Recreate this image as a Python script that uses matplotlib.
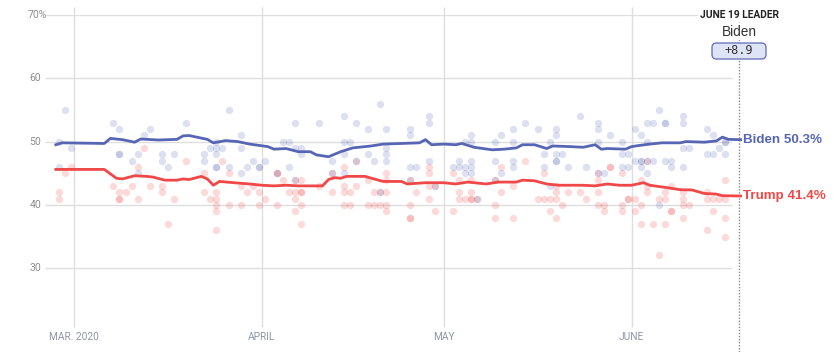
import matplotlib
matplotlib.use("Agg")
import matplotlib.pyplot as plt
import matplotlib.dates as mdates
import matplotlib.transforms as mtransforms
from matplotlib.patches import FancyBboxPatch
import pandas as pd

# ---------------- data ----------------
biden_line_dates = ["02-27", "02-28", "03-06", "03-07", "03-09", "03-11", "03-12", "03-15", "03-18", "03-19",
                    "03-20", "03-23", "03-24", "03-26", "03-28", "03-30", "04-02", "04-03", "04-05", "04-07",
                    "04-09", "04-10", "04-12", "04-14", "04-16", "04-19", "04-21", "04-24", "04-27", "04-28",
                    "04-29", "05-01", "05-03", "05-04", "05-06", "05-09", "05-11", "05-13", "05-14", "05-16",
                    "05-18", "05-19", "05-22", "05-24", "05-26", "05-27", "05-28", "05-31", "06-01", "06-02",
                    "06-04", "06-06", "06-09", "06-10", "06-13", "06-15", "06-16", "06-17", "06-19"]
biden_line_values = [49.5, 49.8, 49.7, 50.5, 50.3, 49.9, 50.4, 50.25, 50.35, 50.9,
                     50.95, 50.35, 49.8, 50.15, 50.0, 49.6, 49.2, 48.8, 48.9, 48.4,
                     48.4, 47.9, 47.6, 48.4, 49.0, 49.3, 49.6, 49.7, 49.8, 50.3,
                     49.5, 49.6, 49.5, 49.7, 49.1, 48.7, 48.8, 49.0, 49.5, 49.5,
                     48.9, 49.3, 49.2, 49.1, 49.5, 48.8, 48.9, 48.8, 49.2, 49.35,
                     49.6, 49.8, 49.8, 50.0, 49.9, 50.1, 50.7, 50.35, 50.3]

trump_line_dates = ["02-27", "03-06", "03-08", "03-09", "03-11", "03-13", "03-14", "03-16", "03-18", "03-19",
                    "03-20", "03-22", "03-23", "03-24", "03-25", "03-28", "03-30", "04-01", "04-03", "04-05",
                    "04-07", "04-11", "04-12", "04-13", "04-14", "04-15", "04-18", "04-21", "04-24", "04-25",
                    "04-28", "05-01", "05-03", "05-05", "05-08", "05-10", "05-13", "05-14", "05-16", "05-18",
                    "05-20", "05-24", "05-26", "05-28", "05-30", "06-01", "06-03", "06-04", "06-07", "06-09",
                    "06-11", "06-13", "06-15", "06-16", "06-19"]
trump_line_values = [45.6, 45.6, 44.2, 44.1, 44.6, 44.5, 44.4, 43.9, 43.9, 44.1,
                     44.0, 44.5, 44.1, 43.1, 43.7, 43.45, 43.3, 43.1, 43.0, 43.1,
                     43.0, 43.0, 44.0, 44.3, 44.2, 44.5, 44.5, 43.7, 43.7, 43.3,
                     43.5, 43.5, 43.3, 43.6, 43.3, 43.6, 43.6, 43.9, 43.8, 43.3,
                     43.1, 43.1, 43.0, 43.3, 43.1, 43.1, 43.5, 43.1, 42.7, 42.4,
                     42.35, 41.8, 41.7, 41.45, 41.4]

biden_poll_dates = ["02-27", "02-27", "02-28", "02-29",
    "03-07", "03-08", "03-08", "03-08", "03-10", "03-11", "03-11", "03-12", "03-13", "03-15", "03-15", "03-16", "03-17", "03-19",
    "03-22", "03-22", "03-23", "03-24", "03-24", "03-24", "03-24", "03-24", "03-25", "03-26", "03-26", "03-28", "03-28", "03-28",
    "03-29", "03-30", "03-31", "03-31",
    "04-01", "04-03", "04-04", "04-05", "04-05", "04-06", "04-06", "04-06", "04-07", "04-07", "04-10", "04-12", "04-12",
    "04-14", "04-14", "04-14", "04-14", "04-15", "04-16", "04-16", "04-18", "04-18", "04-19", "04-20", "04-20", "04-21", "04-21", "04-21", "04-21",
    "04-25", "04-25", "04-25", "04-25", "04-26", "04-28", "04-28", "04-28", "04-29",
    "05-02", "05-03", "05-03", "05-04", "05-04", "05-04", "05-05", "05-05", "05-05", "05-05", "05-05", "05-06",
    "05-09", "05-09", "05-09", "05-10", "05-10", "05-12", "05-12", "05-12", "05-12", "05-14", "05-16", "05-17", "05-17",
    "05-18", "05-18", "05-19", "05-19", "05-19", "05-19", "05-19", "05-20", "05-21", "05-23", "05-24",
    "05-26", "05-26", "05-26", "05-26", "05-27", "05-28", "05-30", "05-30", "05-30", "05-31", "05-31",
    "06-01", "06-01", "06-02", "06-02", "06-02", "06-02", "06-03", "06-03", "06-03", "06-03", "06-04", "06-04",
    "06-05", "06-05", "06-06", "06-06", "06-06", "06-07", "06-07",
    "06-09", "06-09", "06-09", "06-09", "06-10", "06-13", "06-13", "06-14", "06-14", "06-15", "06-16", "06-16", "06-16"]
biden_poll_values = [50, 46, 55, 49,
    53, 52, 48, 48, 47, 48, 45, 51, 52, 48, 47, 46, 48, 53,
    48, 47, 49, 50, 49, 48, 46, 46, 49, 55, 46, 51, 49, 45,
    46, 47, 46, 46,
    47, 45, 50, 50, 46, 53, 49, 44, 49, 48, 53, 45, 47,
    54, 50, 48, 45, 50, 53, 47, 52, 48, 47, 56, 42, 52, 49, 48, 47,
    52, 51, 46, 44, 46, 54, 53, 47, 43,
    46, 47, 46, 50, 46, 45, 51, 50, 47, 46, 45, 41,
    50, 47, 44, 51, 45, 52, 50, 47, 46, 53, 52, 48, 46,
    50, 43, 52, 51, 48, 47, 47, 48, 46, 54, 46,
    53, 52, 50, 45, 45, 51, 50, 48, 46, 48, 46,
    52, 47, 51, 47, 47, 46, 53, 50, 47, 45, 53, 47,
    55, 40, 53, 53, 47, 47, 46,
    54, 53, 49, 46, 49, 52, 48, 51, 48, 49, 50, 50, 48]

trump_poll_dates = ["02-27", "02-27", "02-28", "02-29",
    "03-07", "03-08", "03-08", "03-08", "03-09", "03-10", "03-11", "03-11", "03-12", "03-13", "03-15", "03-15", "03-16", "03-17", "03-19",
    "03-22", "03-22", "03-23", "03-24", "03-24", "03-24", "03-24", "03-24", "03-25", "03-26", "03-26", "03-28", "03-28", "03-29",
    "03-30", "03-31", "03-31",
    "04-01", "04-03", "04-03", "04-03", "04-04", "04-05", "04-06", "04-06", "04-06", "04-06", "04-07", "04-07", "04-07", "04-07", "04-07", "04-10",
    "04-12", "04-12", "04-14", "04-14", "04-14", "04-14", "04-15", "04-15", "04-16", "04-16", "04-18", "04-18", "04-19", "04-19",
    "04-20", "04-20", "04-21", "04-21", "04-21", "04-21", "04-21",
    "04-25", "04-25", "04-25", "04-25", "04-26", "04-28", "04-28", "04-28", "04-28", "04-29", "04-29",
    "05-02", "05-02", "05-03", "05-03", "05-03", "05-04", "05-05", "05-05", "05-05", "05-05", "05-06",
    "05-09", "05-09", "05-09", "05-10", "05-10", "05-12", "05-12", "05-14", "05-16", "05-17", "05-17", "05-18", "05-18",
    "05-19", "05-19", "05-19", "05-19", "05-20", "05-21", "05-23", "05-24",
    "05-26", "05-26", "05-26", "05-26", "05-27", "05-27", "05-28", "05-28", "05-30", "05-30", "05-30", "05-31", "05-31",
    "06-01", "06-01", "06-02", "06-02", "06-02", "06-03", "06-03", "06-03", "06-04", "06-05", "06-05",
    "06-06", "06-06", "06-06", "06-07", "06-07", "06-07",
    "06-09", "06-09", "06-09", "06-09", "06-10", "06-13", "06-13", "06-13", "06-14", "06-14", "06-15",
    "06-16", "06-16", "06-16", "06-16"]
trump_poll_values = [42, 41, 45, 46,
    43, 42, 41, 41, 42, 43, 46, 41, 49, 43, 43, 42, 37, 41, 47,
    45, 42, 41, 42, 41, 40, 39, 36, 47, 45, 40, 43, 40, 42,
    43, 42, 40,
    41, 45, 45, 40, 44, 42, 44, 42, 41, 39, 44, 42, 42, 40, 37, 43,
    45, 42, 46, 43, 42, 40, 42, 40, 47, 43, 44, 40, 42, 40,
    42, 40, 45, 44, 42, 40, 39,
    44, 40, 38, 38, 42, 46, 45, 43, 41, 43, 39,
    45, 39, 44, 42, 41, 41, 44, 42, 41, 41, 41,
    44, 40, 38, 46, 42, 43, 38, 47, 41, 45, 41, 41, 39,
    43, 42, 41, 38, 40, 42, 42, 41,
    45, 44, 42, 40, 40, 39, 46, 46, 45, 40, 39, 41, 41,
    41, 39, 44, 40, 37, 47, 43, 42, 37, 41, 32,
    42, 41, 37, 43, 39, 39,
    42, 41, 40, 38, 40, 42, 41, 36, 41, 39, 41,
    44, 41, 38, 35]

y_ticks = [30, 40, 50, 60, 70]
y_tick_labels = ["30", "40", "50", "60", "70%"]
x_tick_dates = ["03-01", "04-01", "05-01", "06-01"]
x_tick_labels = ["MAR. 2020", "APRIL", "MAY", "JUNE"]
leader_date = "06-19"
leader_title = "JUNE 19 LEADER"
leader_name = "Biden"
leader_margin = "+8.9"
biden_label = "Biden 50.3%"
trump_label = "Trump 41.4%"

# ---------------- helpers ----------------
def to_num(md):
    return mdates.date2num(pd.Timestamp("2020-" + md))

BLUE = "#5766b4"
RED = "#f04848"
W, H = 836, 352

fig = plt.figure(figsize=(W / 100, H / 100), dpi=100)
ax_left, ax_right, ax_top, ax_bot = 45, 740.6, 15, 327
ax = fig.add_axes([ax_left / W, (H - ax_bot) / H, (ax_right - ax_left) / W, (ax_bot - ax_top) / H])

x_start = to_num("03-01") - (74 - ax_left) / 6.06
x_end = to_num(leader_date)
ax.set_xlim(x_start, x_end)
ax.set_ylim(20.7, 70)
for s in ax.spines.values():
    s.set_visible(False)
ax.set_xticks([])
ax.set_yticks([])

# gridlines
grid_end = x_start + (732 - ax_left) / 6.06
ax.hlines(y_ticks, x_start, grid_end, color="#dedede", lw=1, zorder=1)
for d in x_tick_dates:
    ax.vlines(to_num(d), 20.7, 71.2, color="#dedede", lw=1, zorder=1, clip_on=False)

# tick labels
ytrans = mtransforms.blended_transform_factory(fig.transFigure, ax.transData)
tick_font = ["Liberation Sans Narrow", "Roboto", "DejaVu Sans"]
for v, lab in zip(y_ticks, y_tick_labels):
    if lab.endswith("%"):
        ax.text(28 / W, v, lab, transform=ytrans, ha="left", va="center", fontsize=7.5,
                color="#8e8e8e", family=tick_font)
    else:
        ax.text(41 / W, v, lab, transform=ytrans, ha="right", va="center", fontsize=7.5,
                color="#8e8e8e", family=tick_font)

xtrans = mtransforms.blended_transform_factory(ax.transData, fig.transFigure)
for d, lab in zip(x_tick_dates, x_tick_labels):
    ax.text(to_num(d), 1 - 337 / H, lab, transform=xtrans, ha="center", va="center",
            fontsize=7.3, color="#8d95a6", family=tick_font)

# polls
half = 0.5
bx = [to_num(d) + half for d in biden_poll_dates]
tx = [to_num(d) + half for d in trump_poll_dates]
ax.scatter(tx, trump_poll_values, s=28, color=RED, alpha=0.2, lw=0, zorder=2)
ax.scatter(bx, biden_poll_values, s=28, color=BLUE, alpha=0.2, lw=0, zorder=2)

# trend lines
ax.plot([to_num(d) for d in trump_line_dates], trump_line_values, color=RED, lw=2.0,
        zorder=4, solid_joinstyle="round", clip_on=False)
ax.plot([to_num(d) for d in biden_line_dates], biden_line_values, color=BLUE, lw=2.0,
        zorder=4, solid_joinstyle="round", clip_on=False)

# dotted leader line
lx = to_num(leader_date) - 0.25
ax.plot([lx, lx], [70 - (H - ax_top) / 6.33, 70 - (20 - ax_top) / 6.33],
        color="#8a8a8a", lw=1, ls=(0, (1, 1.2)), clip_on=False, zorder=3)

# end labels
lab_font = ["Liberation Sans", "DejaVu Sans"]
ax.annotate(biden_label, (to_num(leader_date), biden_line_values[-1]), xytext=(1.5, 0),
            textcoords="offset points", ha="left", va="center", fontsize=9.6,
            fontweight="bold", color=BLUE, family=lab_font, annotation_clip=False)
ax.annotate(trump_label, (to_num(leader_date), trump_line_values[-1]), xytext=(1.5, 0),
            textcoords="offset points", ha="left", va="center", fontsize=9.6,
            fontweight="bold", color=RED, family=lab_font, annotation_clip=False)

# leader header
ax.text(lx, 1 - 15 / H, leader_title, transform=xtrans, ha="center", va="center",
        fontsize=7.4, fontweight="bold", color="#222222", family=tick_font, zorder=6,
        bbox=dict(boxstyle="square,pad=0.15", fc="white", ec="none"))
ax.text(lx, 1 - 32 / H, leader_name, transform=xtrans, ha="center", va="center",
        fontsize=9.8, color="#333333", family=lab_font, zorder=6,
        bbox=dict(boxstyle="square,pad=0.05", fc="white", ec="none"))
box = FancyBboxPatch((712 / 100, (H - 59) / 100), 0.54, 0.16,
                     boxstyle="round,pad=0,rounding_size=0.045", transform=fig.dpi_scale_trans,
                     fc="#dfe3f6", ec="#6c77c0", lw=1, zorder=6, figure=fig)
fig.patches.append(box)
fig.text(739 / W, 1 - 51 / H, leader_margin, ha="center", va="center", fontsize=8.6,
         color="#333333", family="DejaVu Sans Mono", zorder=7)

fig.savefig("out.png", dpi=100)
